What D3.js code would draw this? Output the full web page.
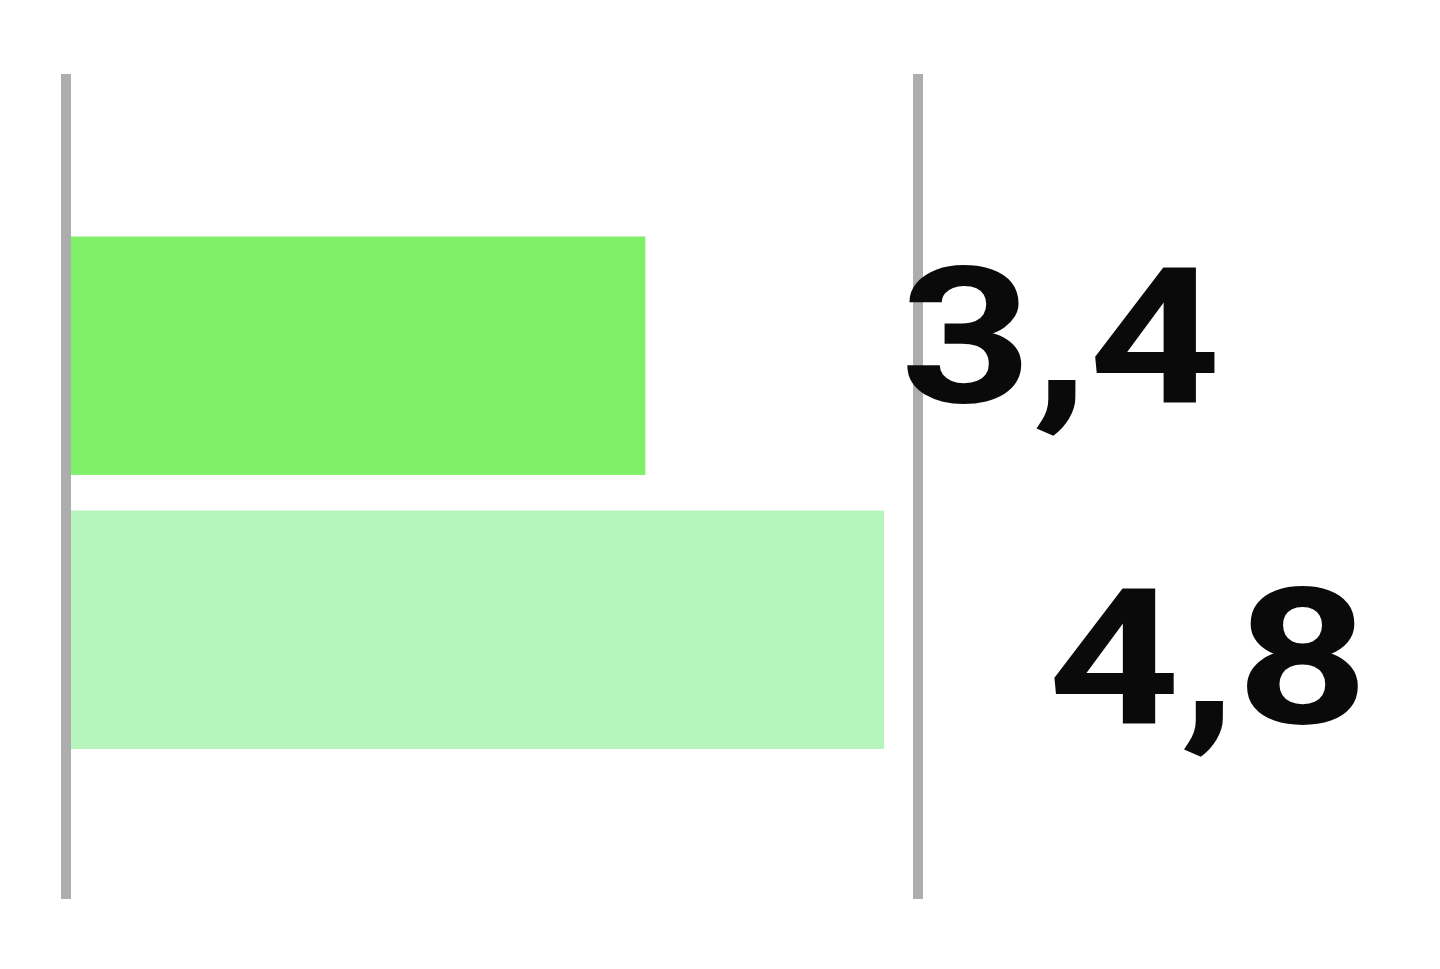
<!DOCTYPE html>
<html>
<head>
<meta charset="utf-8">
<script src="https://cdn.jsdelivr.net/npm/d3@7"></script>
<style>
	html, body { margin: 0; padding: 0; background: #fff; }
	svg { display: block; }
	.val { font-family: Roboto, "Noto Sans", sans-serif; font-weight: 700; }
</style>
</head>
<body>
<div id="chart"></div>
<script>
// data
var categories = ["a", "b"];
var values = [3.4, 4.8];
var labels = ["3,4", "4,8"];
var barColors = ["#80f06a", "#b5f5bc"];
var gridValues = [0, 5];

// layout
var width = 1440, height = 969;
var top_ = 74, bottom = 899;
var gridWidth = 10;
var labelDx = [255, 164];
var labelDy = [46, 93];
var stretch = 1.21;

var svg = d3.select("#chart")
	.append("svg")
	.attr("width", width)
	.attr("height", height);

var x = d3.scaleLinear()
	.domain([0, 5])
	.range([66, 918]);

var y = d3.scaleBand()
	.domain(categories)
	.range([top_, bottom])
	.paddingInner(0.13)
	.paddingOuter(0.57)
	.align(0.52);

// gridlines at 0 and 5
svg.append("g")
	.selectAll("line")
	.data(gridValues)
	.enter()
	.append("line")
	.attr("x1", function (d) { return x(d); })
	.attr("x2", function (d) { return x(d); })
	.attr("y1", top_)
	.attr("y2", bottom)
	.style("stroke", "#adadad")
	.style("stroke-width", gridWidth);

svg.append("g")
	.selectAll("rect")
	.data(values)
	.enter()
	.append("rect")
	.attr("x", x(0) + gridWidth / 2)
	.attr("y", function (d, i) { return y(categories[i]); })
	.attr("width", function (d) { return x(d) - x(0) - gridWidth / 2; })
	.attr("height", y.bandwidth())
	.style("fill", function (d, i) { return barColors[i]; });

svg.append("g")
	.selectAll("text")
	.data(values)
	.enter()
	.append("text")
	.attr("class", "val")
	.attr("transform", function (d, i) {
		var tx = x(d) + labelDx[i];
		var ty = y(categories[i]) + y.bandwidth() / 2 + labelDy[i];
		return "translate(" + tx + "," + ty + ") scale(" + stretch + ",1)";
	})
	.style("font-size", "190px")
	.style("fill", "#0a0a0a")
	.text(function (d, i) { return labels[i]; });
</script>
</body>
</html>
